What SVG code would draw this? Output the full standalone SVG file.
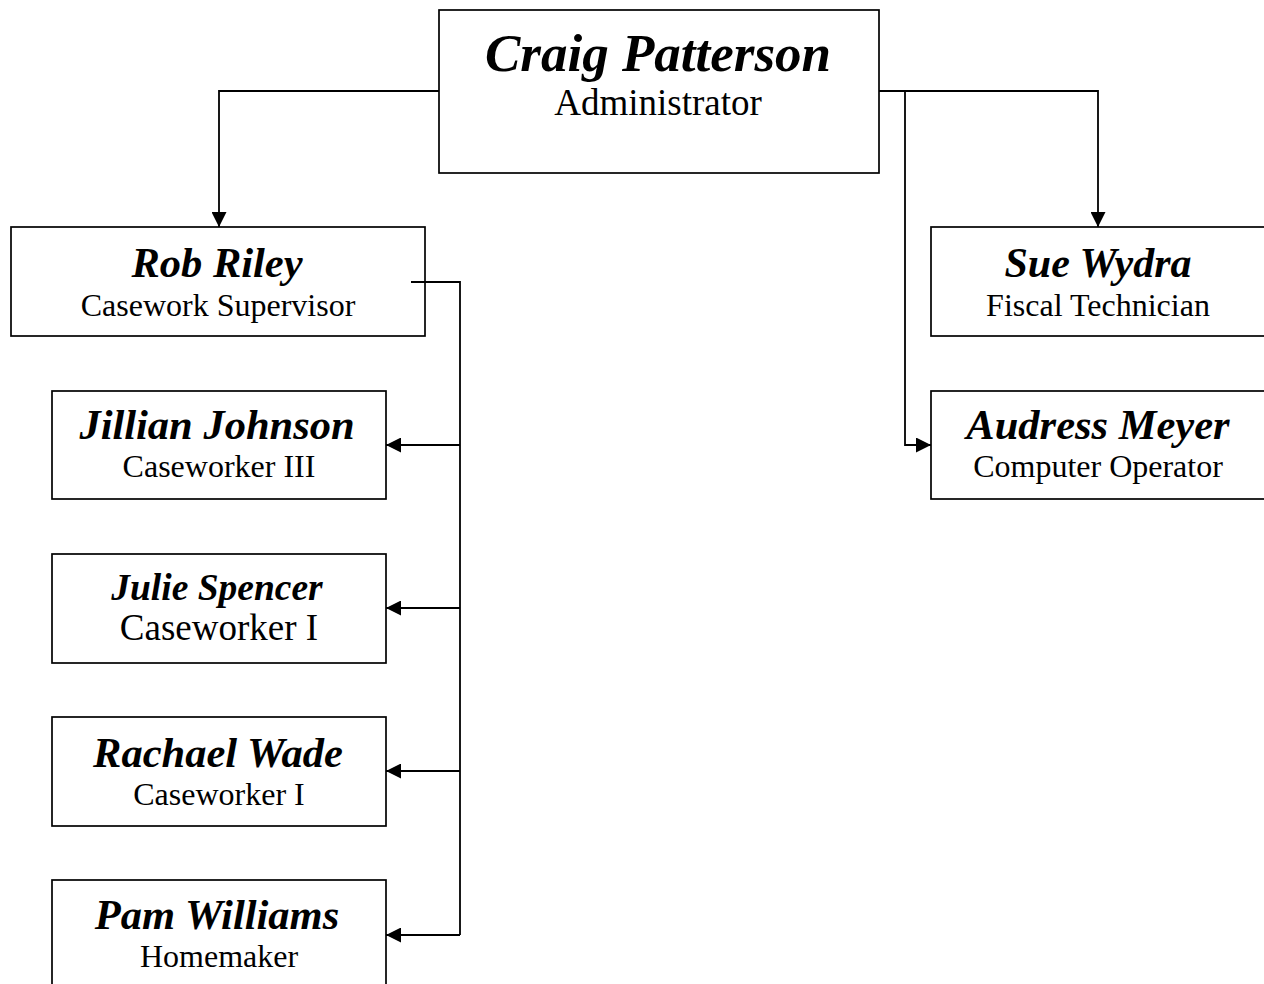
<svg xmlns="http://www.w3.org/2000/svg" width="1264" height="984" viewBox="0 0 1264 984">
<style>
.box{fill:#fff;stroke:#000;stroke-width:1.7}
.con{fill:none;stroke:#000;stroke-width:1.8}
.nm{font-family:"Liberation Serif","Times New Roman",serif;font-weight:bold;font-style:italic;text-anchor:middle;fill:#000}
.tt{font-family:"Liberation Serif","Times New Roman",serif;text-anchor:middle;fill:#000}
</style>
<defs>
<marker id="ah" markerUnits="userSpaceOnUse" markerWidth="16" markerHeight="15" refX="15" refY="7.5" orient="auto">
<path d="M0,0 L15,7.5 L0,15 Z" fill="#000"/>
</marker>
</defs>
<rect width="1264" height="984" fill="#fff"/>
<g id="craig">
<rect class="box" x="439" y="10" width="440" height="163"/>
<text class="nm" x="658" y="71" font-size="53">Craig Patterson</text>
<text class="tt" x="658" y="115" font-size="37">Administrator</text>
</g>
<g id="rob">
<rect class="box" x="11" y="227" width="414" height="109"/>
<text class="nm" x="217" y="277" font-size="42.5">Rob Riley</text>
<text class="tt" x="218" y="316" font-size="32">Casework Supervisor</text>
</g>
<g id="sue">
<rect class="box" x="931" y="227" width="334" height="109"/>
<text class="nm" x="1098" y="277" font-size="42">Sue Wydra</text>
<text class="tt" x="1098" y="316" font-size="32">Fiscal Technician</text>
</g>
<g id="audress">
<rect class="box" x="931" y="391" width="334" height="108"/>
<text class="nm" x="1098" y="439" font-size="42.5">Audress Meyer</text>
<text class="tt" x="1098" y="477" font-size="32">Computer Operator</text>
</g>
<g id="jillian">
<rect class="box" x="52" y="391" width="334" height="108"/>
<text class="nm" x="217" y="439" font-size="42.5">Jillian Johnson</text>
<text class="tt" x="219" y="477" font-size="32">Caseworker III</text>
</g>
<g id="julie">
<rect class="box" x="52" y="554" width="334" height="109"/>
<text class="nm" x="217" y="600" font-size="37.5">Julie Spencer</text>
<text class="tt" x="219" y="640" font-size="37">Caseworker I</text>
</g>
<g id="rachael">
<rect class="box" x="52" y="717" width="334" height="109"/>
<text class="nm" x="218" y="767" font-size="42.5">Rachael Wade</text>
<text class="tt" x="219" y="805" font-size="32">Caseworker I</text>
</g>
<g id="pam">
<rect class="box" x="52" y="880" width="334" height="110"/>
<text class="nm" x="217" y="929" font-size="42.5">Pam Williams</text>
<text class="tt" x="219" y="967" font-size="32">Homemaker</text>
</g>
<g id="connectors">
<polyline class="con" points="439,91 219,91 219,227" marker-end="url(#ah)"/>
<polyline class="con" points="879,91 1098,91 1098,227" marker-end="url(#ah)"/>
<polyline class="con" points="905,91 905,445 931,445" marker-end="url(#ah)"/>
<polyline class="con" points="411,282 460,282 460,935"/>
<line class="con" x1="460" y1="445" x2="386" y2="445" marker-end="url(#ah)"/>
<line class="con" x1="460" y1="608" x2="386" y2="608" marker-end="url(#ah)"/>
<line class="con" x1="460" y1="771" x2="386" y2="771" marker-end="url(#ah)"/>
<line class="con" x1="460" y1="935" x2="386" y2="935" marker-end="url(#ah)"/>
</g>
</svg>
